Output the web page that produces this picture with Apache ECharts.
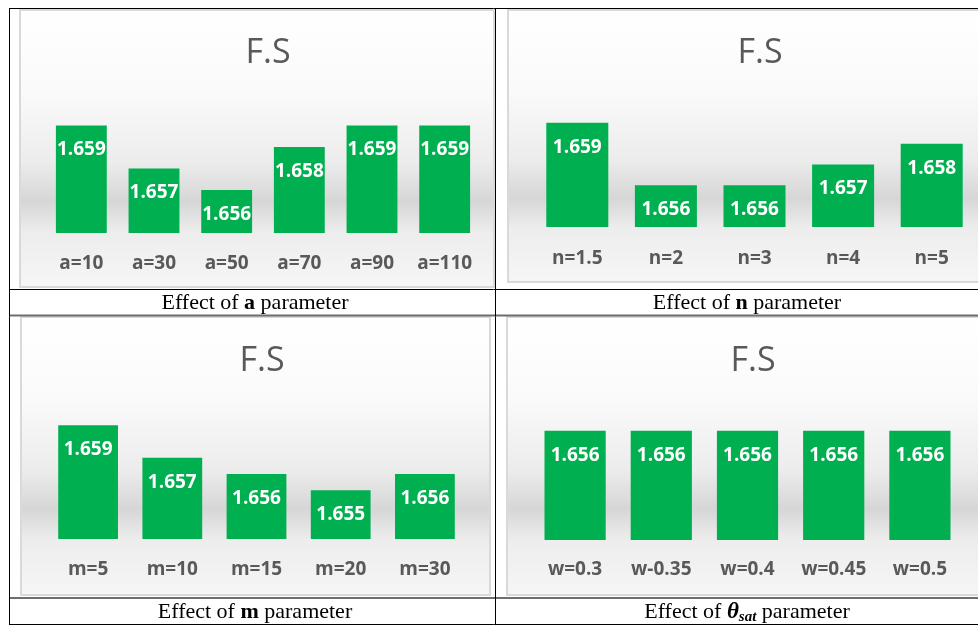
<!DOCTYPE html>
<html>
<head>
<meta charset="utf-8">
<script src="https://cdn.jsdelivr.net/npm/echarts@6/dist/echarts.min.js"></script>
<style>
html,body{margin:0;padding:0;background:#fff;}
#c{width:978px;height:626px;}
</style>
</head>
<body>
<div id="c"></div>
<script>
const aCats = ['a=10','a=30','a=50','a=70','a=90','a=110'];
const aVals = [1.659,1.657,1.656,1.658,1.659,1.659];
const nCats = ['n=1.5','n=2','n=3','n=4','n=5'];
const nVals = [1.659,1.656,1.656,1.657,1.658];
const mCats = ['m=5','m=10','m=15','m=20','m=30'];
const mVals = [1.659,1.657,1.656,1.655,1.656];
const wCats = ['w=0.3','w-0.35','w=0.4','w=0.45','w=0.5'];
const wVals = [1.656,1.656,1.656,1.656,1.656];
const chartTitle = 'F.S';

const GREEN = '#00B050';
const GRAY_TXT = '#595959';
const SANS = "'Open Sans', 'Noto Sans', sans-serif";
const SERIF = "'Liberation Serif', 'DejaVu Serif', serif";

const panels = [
  {cats:aCats, vals:aVals, grid:{left:45, top:104, width:436, height:129}, min:1.654, max:1.660, margin:20, titleX:263, titleY:31, gap:'30%'},
  {cats:nCats, vals:nVals, grid:{left:533, top:102, width:443, height:125}, min:1.654, max:1.660, margin:21, titleX:755, titleY:31, gap:'30%'},
  {cats:mCats, vals:mVals, grid:{left:46, top:409, width:421, height:130}, min:1.652, max:1.660, margin:20, titleX:257, titleY:339, gap:'29%'},
  {cats:wCats, vals:wVals, grid:{left:532, top:376, width:431, height:164}, min:1.654, max:1.657, margin:19, titleX:748, titleY:339, gap:'29%'}
];

function bgRect(x, y, w, h) {
  return {
    type:'rect', z:-10, silent:true,
    shape:{x:x, y:y, width:w, height:h},
    style:{
      fill:{type:'linear', x:0, y:0, x2:0, y2:1, colorStops:[
        {offset:0, color:'#ffffff'},
        {offset:0.3, color:'#fafafa'},
        {offset:0.55, color:'#ececec'},
        {offset:0.69, color:'#d6d6d6'},
        {offset:0.8, color:'#ededed'},
        {offset:1, color:'#f6f6f6'}
      ]},
      stroke:'#d9d9d9', lineWidth:2
    }
  };
}
function hline(y, x1, x2, color, w) {
  return {type:'line', z:100, silent:true, shape:{x1:x1, y1:y, x2:x2, y2:y}, style:{stroke:color, lineWidth:w}};
}
function vline(x, y1, y2, color, w) {
  return {type:'line', z:100, silent:true, shape:{x1:x, y1:y1, x2:x, y2:y2}, style:{stroke:color, lineWidth:w}};
}

const graphics = [
  bgRect(20, 10, 474, 277),
  bgRect(508, 10, 480, 272),
  bgRect(21, 317, 469, 278),
  bgRect(507, 317, 480, 278),
  hline(8.5, 9, 978, '#000', 1),
  hline(289.5, 9, 978, '#000', 1),
  hline(315.5, 9, 978, '#6e6e6e', 2),
  hline(598, 9, 978, '#6e6e6e', 2),
  hline(624.5, 9, 978, '#000', 1),
  vline(9.5, 8, 625, '#000', 1),
  vline(495.5, 8, 625, '#000', 1)
];

const titles = panels.map(p => ({
  text: chartTitle, left: p.titleX, top: p.titleY, textAlign:'center',
  textStyle:{fontFamily:SANS, fontSize:34, fontWeight:'normal', color:GRAY_TXT}
}));

const capRich = {
  n:{fontFamily:SERIF, fontSize:22, color:'#000', fontWeight:'normal', lineHeight:24},
  b:{fontFamily:SERIF, fontSize:22, color:'#000', fontWeight:'bold', lineHeight:24},
  bi:{fontFamily:SERIF, fontSize:23, color:'#000', fontWeight:'bold', fontStyle:'italic', lineHeight:24},
  sub:{fontFamily:SERIF, fontSize:15, color:'#000', fontWeight:'bold', fontStyle:'italic', lineHeight:24, padding:[10,0,0,0]}
};
const captions = [
  {text:'{n|Effect of }{b|a}{n| parameter}', x:255, y:291},
  {text:'{n|Effect of }{b|n}{n| parameter}', x:747, y:291},
  {text:'{n|Effect of }{b|m}{n| parameter}', x:255, y:600},
  {text:'{n|Effect of }{bi|θ}{sub|sat}{n| parameter}', x:747, y:600}
];
captions.forEach(c => titles.push({
  text:c.text, left:c.x, top:c.y, textAlign:'center', padding:0,
  textStyle:{fontWeight:'normal', fontFamily:SERIF, rich:capRich}
}));

const option = {
  animation:false,
  backgroundColor:'#ffffff',
  title: titles,
  graphic: graphics,
  grid: panels.map(p => p.grid),
  xAxis: panels.map((p,i) => ({
    type:'category', gridIndex:i, data:p.cats,
    axisLine:{show:false}, axisTick:{show:false}, splitLine:{show:false},
    axisLabel:{margin:p.margin + 1, color:GRAY_TXT, fontFamily:SANS, fontSize:19, fontWeight:'bold', interval:0}
  })),
  yAxis: panels.map((p,i) => ({
    type:'value', gridIndex:i, min:p.min, max:p.max, show:false, splitLine:{show:false}
  })),
  series: panels.map((p,i) => ({
    type:'bar', xAxisIndex:i, yAxisIndex:i, data:p.vals,
    barCategoryGap:p.gap,
    itemStyle:{color:GREEN},
    label:{show:true, position:'insideTop', distance:15, color:'#fff', fontFamily:SANS, fontSize:19, fontWeight:'bold',
      formatter: q => q.value.toFixed(3)}
  }))
};

const chart = echarts.init(document.getElementById('c'), null, {renderer:'canvas'});
chart.setOption(option);
</script>
</body>
</html>
